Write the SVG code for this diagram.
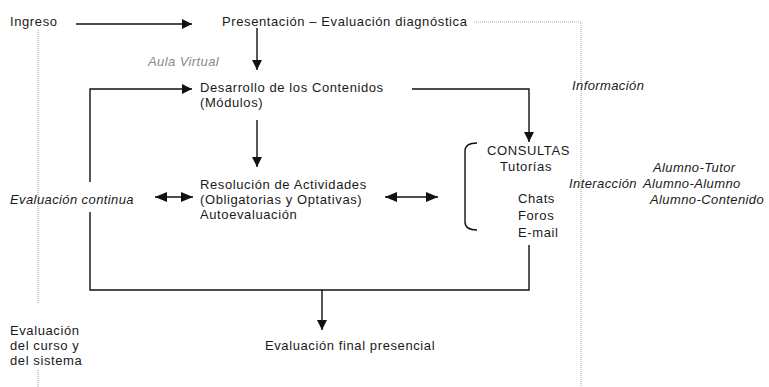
<svg xmlns="http://www.w3.org/2000/svg" width="769" height="387" viewBox="0 0 769 387">
<style>
text{font-family:"Liberation Sans",Arial,sans-serif;font-size:13px;letter-spacing:0.6px;fill:#1a1a1a}
.i{font-style:italic;letter-spacing:0.4px}
.g{fill:#8a8a8a}
.ln{stroke:#111;stroke-width:1.4;fill:none}
.dot{stroke:#b0b0b0;stroke-width:1.2;stroke-dasharray:1 1;fill:none}
</style>
<defs>
<marker id="ah" viewBox="0 0 10 10" refX="10" refY="5" markerWidth="10" markerHeight="10" markerUnits="userSpaceOnUse" orient="auto-start-reverse">
<path d="M0,0 L10,5 L0,10 z" fill="#111"/>
</marker>
<marker id="ah2" viewBox="0 0 12 10" refX="12" refY="5" markerWidth="12" markerHeight="10" markerUnits="userSpaceOnUse" orient="auto-start-reverse">
<path d="M0,0 L12,5 L0,10 z" fill="#111"/>
</marker>
</defs>
<rect width="769" height="387" fill="#fff"/>
<g id="guides">
<path class="dot" d="M474,22 H581 V387"/>
<path class="dot" d="M38,30 V304 M38,370 V387"/>
</g>
<g id="connectors">
<path class="ln" d="M76,24 H192" marker-end="url(#ah)"/>
<path class="ln" d="M257,28 V70" marker-end="url(#ah)"/>
<path class="ln" d="M90,182 V89 H192" marker-end="url(#ah)"/>
<path class="ln" d="M257,120 V167" marker-end="url(#ah)"/>
<path class="ln" d="M412,89 H529 V142" marker-end="url(#ah)"/>
<path class="ln" d="M155,197 H193" marker-start="url(#ah2)" marker-end="url(#ah2)"/>
<path class="ln" d="M385,197 H438" marker-start="url(#ah2)" marker-end="url(#ah2)"/>
<path class="ln" d="M90,212 V290 H529 V245"/>
<path class="ln" d="M322,290 V330" marker-end="url(#ah)"/>
<path class="ln" d="M477,143 Q465,143 465,151 V222 Q465,230 477,230"/>
</g>
<g id="ingreso"><text x="10" y="26">Ingreso</text></g>
<g id="presentacion"><text x="222" y="26">Presentación – Evaluación diagnóstica</text></g>
<g id="aula-virtual"><text class="i g" x="148" y="66">Aula Virtual</text></g>
<g id="desarrollo"><text x="200" y="92">Desarrollo de los Contenidos</text><text x="200" y="107">(Módulos)</text></g>
<g id="informacion"><text class="i" x="572" y="90">Información</text></g>
<g id="resolucion"><text x="200" y="189">Resolución de Actividades</text><text x="200" y="204">(Obligatorias y Optativas)</text><text x="200" y="219">Autoevaluación</text></g>
<g id="evaluacion-continua"><text class="i" x="10" y="204">Evaluación continua</text></g>
<g id="consultas"><text x="487" y="155">CONSULTAS</text><text x="500" y="171">Tutorías</text><text x="518" y="203">Chats</text><text x="518" y="220">Foros</text><text x="518" y="237">E-mail</text></g>
<g id="interaccion"><text class="i" x="653" y="172">Alumno-Tutor</text><text class="i" x="569" y="188">Interacción</text><text class="i" x="643" y="188">Alumno-Alumno</text><text class="i" x="650" y="204">Alumno-Contenido</text></g>
<g id="evaluacion-curso"><text x="10" y="335">Evaluación</text><text x="10" y="350">del curso y</text><text x="10" y="365">del sistema</text></g>
<g id="evaluacion-final"><text x="265" y="350">Evaluación final presencial</text></g>
</svg>
